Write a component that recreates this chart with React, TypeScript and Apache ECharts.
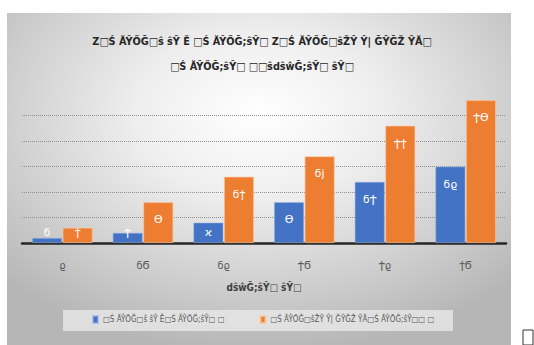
import React, { useEffect, useRef } from "react";
import * as echarts from "echarts";

const categories = ["ϱ", "ϭϬ", "ϭϱ", "ϮϬ", "Ϯϱ", "ϯϬ"];
const seriesANames = "□Ś ĂŶŐĞ□ŝ ŝŶ Ě□Ś ĂŶŐĞ;ŝŶ□ □";
const seriesBNames = "□Ś ĂŶŐĞ□ŝŽŶ Ŷ| ĞŶĞŽ ŶĂ□Ś ĂŶŐĞ;ŝŶ□□ □";
const seriesAValues = [1, 2, 4, 8, 12, 15];
const seriesBValues = [3, 8, 13, 17, 23, 28];
const titleLines = [
  "Z□Ś ĂŶŐĞ□ŝ ŝŶ Ě □Ś ĂŶŐĞ;ŝŶ□ Z□Ś ĂŶŐĞ□ŝŽŶ Ŷ| ĞŶĞŽ ŶĂ□",
  "□Ś ĂŶŐĞ;ŝŶ□ □□ŝdŝŵĞ;ŝŶ□ ŝŶ□",
];
const xAxisTitle = "dŝŵĞ;ŝŶ□ ŝŶ□";
const yMin = 0;
const yMax = 30;
const yInterval = 5;

const glyphDigits = ["Ϭ", "ϭ", "Ϯ", "ϯ", "ϰ", "ϱ", "ϲ", "ϳ", "ϴ", "ϵ"];
const toGlyphs = (v: number) =>
  String(v)
    .split("")
    .map((c) => (c >= "0" && c <= "9" ? glyphDigits[+c] : c))
    .join("");

export default function App() {
  const ref = useRef<HTMLDivElement>(null);
  useEffect(() => {
    if (!ref.current) return;
    const chart = echarts.init(ref.current, undefined, { renderer: "svg" });
    const labelFor = (v: number) =>
      v >= 8
        ? { position: "insideTop", distance: 12 }
        : { position: "insideBottom", distance: 5 };
    const mkData = (vals: number[]) =>
      vals.map((v) => ({ value: v, label: labelFor(v) }));
    const font = "DejaVu Sans";
    const titleStyle = {
      fontFamily: "DejaVu Sans Condensed",
      fontWeight: "bold",
      fontSize: 10.8,
      fill: "#262626",
      textAlign: "center",
      textVerticalAlign: "middle",
    };
    chart.setOption({
      animation: false,
      backgroundColor: "#ffffff",
      graphic: [
        {
          type: "rect",
          z: -100,
          silent: true,
          shape: { x: 7, y: 13, width: 504, height: 340 },
          style: {
            fill: new echarts.graphic.RadialGradient(0.5, 0.3, 0.7, [
              { offset: 0, color: "#ffffff" },
              { offset: 0.35, color: "#eeeeee" },
              { offset: 0.75, color: "#cccccc" },
              { offset: 1, color: "#b6b6b6" },
            ]),
          },
        },
        {
          type: "rect",
          z: -99,
          silent: true,
          shape: { x: 63, y: 310, width: 390, height: 21 },
          style: { fill: "rgba(232,232,232,0.8)" },
        },
        {
          type: "rect",
          silent: true,
          shape: { x: 523, y: 330, width: 10, height: 15 },
          style: { fill: "none", stroke: "#333333", lineWidth: 1 },
        },
        {
          type: "text",
          silent: true,
          x: 262,
          y: 41,
          style: { ...titleStyle, text: titleLines[0] },
        },
        {
          type: "text",
          silent: true,
          x: 262,
          y: 66,
          style: { ...titleStyle, text: titleLines[1] },
        },
      ],
      legend: {
        left: 87,
        top: 310,
        itemWidth: 5,
        itemHeight: 7,
        itemGap: 35,
        icon: "rect",
        textStyle: { fontFamily: "DejaVu Sans Condensed", fontSize: 8, color: "#595959" },
        data: [seriesANames, seriesBNames],
      },
      grid: { left: 22, right: 28, top: 90, bottom: 102, containLabel: false },
      xAxis: {
        type: "category",
        data: categories,
        axisLine: { lineStyle: { color: "#262626", width: 2.5 } },
        axisTick: { show: false },
        axisLabel: { margin: 17, fontFamily: font, fontSize: 10, color: "#595959" },
        name: xAxisTitle,
        nameLocation: "middle",
        nameGap: 39,
        nameTextStyle: { fontFamily: "DejaVu Sans Condensed", fontWeight: "bold", fontSize: 10, color: "#404040" },
      },
      yAxis: {
        type: "value",
        min: yMin,
        max: yMax,
        interval: yInterval,
        axisLabel: { show: false },
        axisLine: { show: false },
        axisTick: { show: false },
        splitLine: {
          showMaxLine: false,
          lineStyle: { type: "dotted", color: "#8f8f8f", width: 1 },
        },
      },
      series: [
        {
          name: seriesANames,
          type: "bar",
          barWidth: 30,
          barGap: "2%",
          data: mkData(seriesAValues),
          itemStyle: { color: "#4472C4", borderColor: "rgba(150,180,230,0.6)", borderWidth: 0.8 },
          label: {
            show: true,
            color: "#ffffff",
            fontFamily: font,
            fontSize: 11,
            formatter: (p: any) => toGlyphs(p.value),
          },
        },
        {
          name: seriesBNames,
          type: "bar",
          barWidth: 30,
          barGap: "2%",
          data: mkData(seriesBValues),
          itemStyle: { color: "#ED7D31", borderColor: "rgba(250,200,160,0.8)", borderWidth: 0.8 },
          label: {
            show: true,
            color: "#ffffff",
            fontFamily: font,
            fontSize: 11,
            formatter: (p: any) => toGlyphs(p.value),
          },
        },
      ],
    });
    return () => chart.dispose();
  }, []);
  return (
    <div
      ref={ref}
      style={{ position: "fixed", left: 0, top: 0, width: 534, height: 345 }}
    />
  );
}
